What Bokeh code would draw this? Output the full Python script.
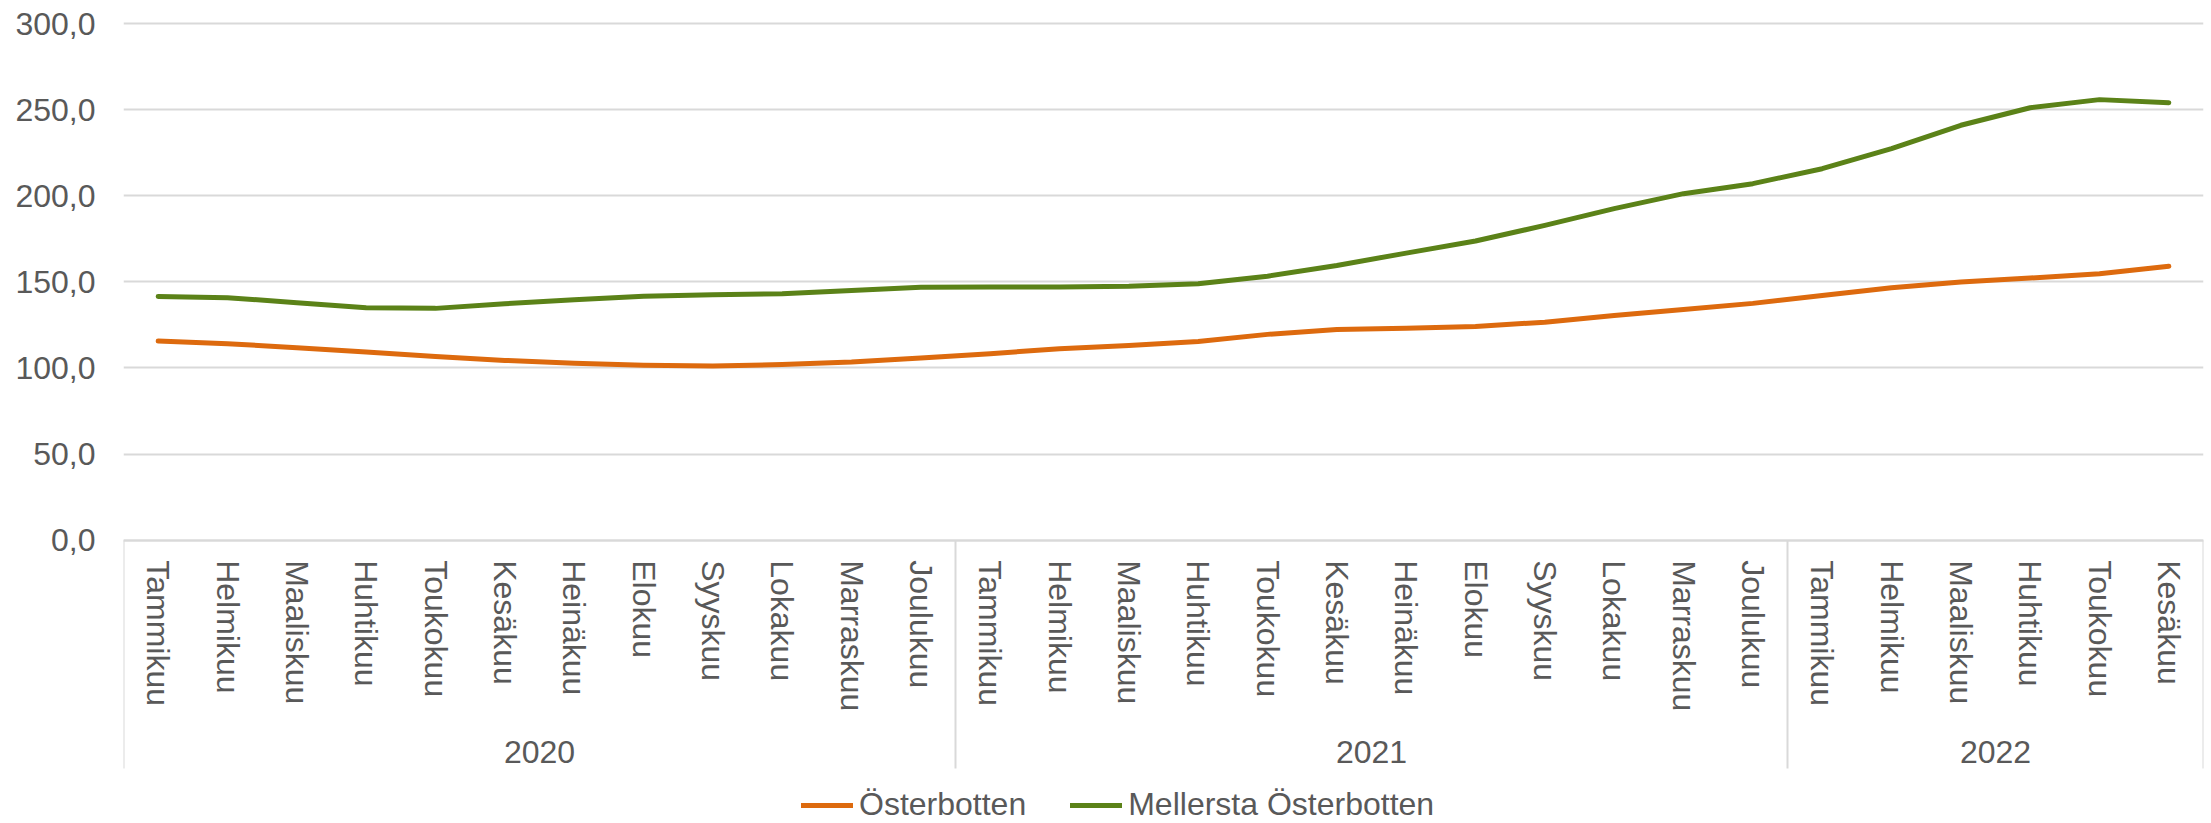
from bokeh.plotting import figure
from bokeh.models import (FactorRange, Range1d, FixedTicker, CustomJSTickFormatter,
                          Legend, LegendItem, ColumnDataSource)
from bokeh.embed import file_html
from bokeh.resources import INLINE
from bokeh.core.properties import value

# ---------------- data ----------------
years = ["2020", "2021", "2022"]
months = ["Tammikuu", "Helmikuu", "Maaliskuu", "Huhtikuu", "Toukokuu", "Kesäkuu",
          "Heinäkuu", "Elokuu", "Syyskuu", "Lokakuu", "Marraskuu", "Joulukuu"]
months_per_year = [12, 12, 6]

osterbotten = [115.6, 114.1, 111.8, 109.3, 106.7, 104.4, 102.8, 101.6, 101.1, 102.0, 103.4, 105.8,
               108.3, 111.2, 113.1, 115.4, 119.5, 122.4, 123.1, 124.1, 126.6, 130.5, 134.0, 137.5,
               142.1, 146.6, 149.9, 152.2, 154.7, 159.0]
mellersta = [141.5, 140.8, 137.9, 135.0, 134.6, 137.3, 139.6, 141.7, 142.5, 143.1, 145.0, 146.9,
             147.0, 147.0, 147.4, 148.9, 153.3, 159.5, 166.7, 173.7, 182.8, 192.5, 201.2, 207.0,
             215.7, 227.3, 240.9, 251.1, 255.8, 254.0]
series_names = ["Österbotten", "Mellersta Österbotten"]
y_ticks = [0, 50, 100, 150, 200, 250, 300]

factors = [(y, m) for y, n in zip(years, months_per_year) for m in months[:n]]

# ---------------- style ----------------
FONT = "Liberation Sans"
TEXT = "#595959"
GRID = "#D9D9D9"
ORANGE = "#DD6A0E"
GREEN = "#5B8218"
FS = "32px"

W, H = 2211, 823
LEFT, RIGHT = 123, 8
TOP_PX = 23                           # pixel row of value 300
PAD_PX = 3                            # extra room above the top gridline
ZERO_PX = 539.7                       # pixel row of value 0
Y_MAX = 300
upp = Y_MAX / (ZERO_PX - TOP_PX)      # data units per pixel
y_top = Y_MAX + PAD_PX * upp
y_bottom = -(H - ZERO_PX) * upp
SEP_Y = -(768 - ZERO_PX) * upp        # bottom of group separators
YEAR_Y = -(751 - ZERO_PX) * upp       # centre of year labels

x_range = FactorRange(*factors, factor_padding=0, subgroup_padding=0,
                      group_padding=0, range_padding=0)

p = figure(width=W, height=H, x_range=x_range, y_range=Range1d(y_bottom, y_top),
           output_backend="svg", toolbar_location=None,
           min_border_left=LEFT, min_border_top=TOP_PX - PAD_PX, min_border_right=RIGHT,
           min_border_bottom=0)
p.outline_line_color = None
p.background_fill_color = "white"

# x axis (placed at value 0 inside the frame)
xa = p.xaxis[0]
xa.fixed_location = 0
xa.axis_line_color = GRID
xa.axis_line_width = 2
xa.major_tick_line_color = None
xa.minor_tick_line_color = None
xa.major_tick_out = 0
xa.major_tick_in = 0
xa.major_label_orientation = "vertical"
xa.major_label_standoff = 20
xa.major_label_text_font = FONT
xa.major_label_text_font_size = FS
xa.major_label_text_color = TEXT
xa.group_text_color = None
xa.separator_line_color = None

# y axis
ya = p.yaxis[0]
ya.ticker = FixedTicker(ticks=y_ticks)
ya.formatter = CustomJSTickFormatter(code="return tick.toFixed(1).replace('.', ',');")
ya.axis_line_color = None
ya.major_tick_line_color = None
ya.minor_tick_line_color = None
ya.major_tick_out = 0
ya.major_tick_in = 0
ya.major_label_standoff = 28
ya.major_label_text_font = FONT
ya.major_label_text_font_size = FS
ya.major_label_text_color = TEXT

p.ygrid[0].ticker = FixedTicker(ticks=y_ticks)
p.ygrid.grid_line_color = GRID
p.ygrid.grid_line_width = 2
p.xgrid.grid_line_color = None

# group separators
sep_x = ([(years[0], months[0], -0.5)] +
         [(y, months[0], -0.5) for y in years[1:]] +
         [(years[-1], months[months_per_year[-1] - 1], 0.5)])
p.segment(x0=sep_x, y0=[0] * len(sep_x), x1=sep_x, y1=[SEP_Y] * len(sep_x),
          line_color=GRID, line_width=2)

# year labels
p.text(x=years, y=[YEAR_Y] * len(years), text=years, text_align="center",
       text_baseline="middle", text_font=value(FONT), text_font_size=FS, text_color=TEXT)

# lines
src = ColumnDataSource(dict(x=factors, ost=osterbotten, mel=mellersta))
r1 = p.line("x", "ost", source=src, line_color=ORANGE, line_width=5,
            line_cap="round", line_join="round")
r2 = p.line("x", "mel", source=src, line_color=GREEN, line_width=5,
            line_cap="round", line_join="round")

legend = Legend(items=[LegendItem(label=series_names[0], renderers=[r1]),
                       LegendItem(label=series_names[1], renderers=[r2])],
                orientation="horizontal", location=(678, 0),
                glyph_width=52, glyph_height=20, label_standoff=6, spacing=44,
                padding=0, margin=0, border_line_color=None, background_fill_alpha=0,
                label_text_font=FONT, label_text_font_size=FS, label_text_color=TEXT)
p.add_layout(legend)

open("out.html", "w").write(file_html(p, INLINE))
